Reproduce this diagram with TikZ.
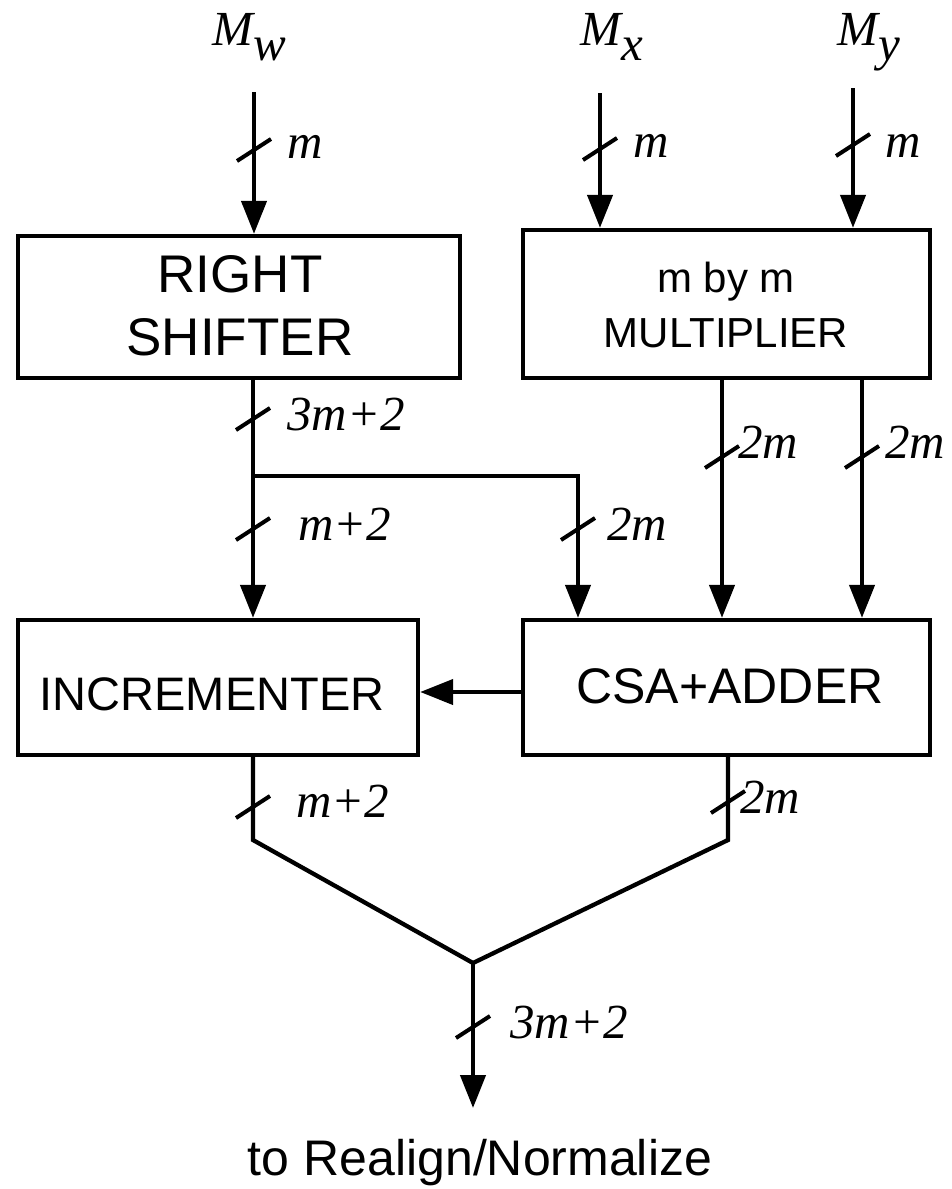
\documentclass[tikz,border=0pt]{standalone}
\usepackage{fontspec}
\setmainfont{Liberation Serif}
\setsansfont{Liberation Sans}
\usetikzlibrary{arrows.meta}

\begin{document}
\begin{tikzpicture}[x=1pt,y=-1pt,
  wire/.style={line width=4.3pt},
  arr/.style={wire,-{Triangle[length=33pt,width=25pt]}},
  block/.style={draw,line width=4.3pt,rectangle,inner sep=0pt},
  blocktext/.style={inner sep=0pt,anchor=base},
  buslabel/.style={font=\fontsize{49}{49}\selectfont\itshape,inner sep=0pt,anchor=base west},
  busmark/.pic={\draw[line width=4pt] (-17,11) -- (17,-11);}
]
% page frame
\fill[white] (0,0) rectangle (951,1189);
\useasboundingbox (0,0) rectangle (951,1189);

% operand names
\node[inner sep=0pt,anchor=base west,font=\fontsize{49}{49}\selectfont\itshape] (mw) at (212,45) {M\raisebox{-15pt}{w}};
\node[inner sep=0pt,anchor=base west,font=\fontsize{49}{49}\selectfont\itshape] (mx) at (580,45) {M\raisebox{-15pt}{x}};
\node[inner sep=0pt,anchor=base west,font=\fontsize{49}{49}\selectfont\itshape] (my) at (837,45) {M\raisebox{-15pt}{y}};

% blocks
\node[block,minimum width=442pt,minimum height=142pt] (rs) at (239,307) {};
\node[block,minimum width=407pt,minimum height=148pt] (mult) at (726.5,304) {};
\node[block,minimum width=400pt,minimum height=135pt] (inc) at (218,687.5) {};
\node[block,minimum width=407pt,minimum height=135pt] (csa) at (726.5,687.5) {};

% block captions
\node[blocktext,font=\sffamily\fontsize{53}{53}\selectfont] (rst1) at (240,292) {RIGHT};
\node[blocktext,font=\sffamily\fontsize{53}{53}\selectfont] (rst2) at (240,355) {SHIFTER};
\node[blocktext,font=\sffamily\fontsize{42}{42}\selectfont] (mult1) at (726,292) {m by m};
\node[blocktext,font=\sffamily\fontsize{42}{42}\selectfont] (mult2) at (726,347) {MULTIPLIER};
\node[blocktext,font=\sffamily\fontsize{47}{47}\selectfont] (inct) at (212,710) {INCREMENTER};
\node[blocktext,font=\sffamily\fontsize{50}{50}\selectfont] (csat) at (730,703) {CSA+ADDER};
\node[blocktext,font=\sffamily\fontsize{50}{50}\selectfont] (dest) at (480,1175) {to Realign/Normalize};

% inputs
\coordinate (mwin) at (254,92);
\coordinate (mxin) at (600,93);
\coordinate (myin) at (853,88);
\draw[arr] (mwin) -- (mwin |- rs.north);
\draw[arr] (mxin) -- (mxin |- mult.north);
\draw[arr] (myin) -- (myin |- mult.north);

% shifter output and its branch
\coordinate (split) at (253,476);
\draw[arr] (253,0 |- rs.south) -- (253,0 |- inc.north);
\draw[arr] (split) -- (578,476) -- (578,0 |- csa.north);

% multiplier outputs
\draw[arr] (722,0 |- mult.south) -- (722,0 |- csa.north);
\draw[arr] (862,0 |- mult.south) -- (862,0 |- csa.north);

% adder to incrementer
\draw[arr] (csa.west |- 0,692) -- (inc.east |- 0,692);

% merge of the two results
\coordinate (merge) at (473,963);
\coordinate (out) at (473,1108);
\draw[wire] (253,0 |- inc.south) -- (253,840) -- (merge);
\draw[wire] (728,0 |- csa.south) -- (728,840) -- (merge);
\draw[arr] (merge) -- (out);

% bus width marks
\pic at (254,150) {busmark};
\pic at (600,149) {busmark};
\pic at (853,145) {busmark};
\pic at (253,419) {busmark};
\pic at (253,529) {busmark};
\pic at (578,529) {busmark};
\pic at (722,457) {busmark};
\pic at (862,457) {busmark};
\pic at (253,807) {busmark};
\pic at (728,802) {busmark};
\pic at (473,1027) {busmark};

% bus width labels
\node[buslabel] (lw) at (287,158) {m};
\node[buslabel] (lx) at (633,157) {m};
\node[buslabel] (ly) at (885,157) {m};
\node[buslabel] (lrs) at (287,430) {3m+2};
\node[buslabel] (linc) at (298,540) {m+2};
\node[buslabel] (lbr) at (607,540) {2m};
\node[buslabel] (lm1) at (738,458) {2m};
\node[buslabel] (lm2) at (885,458) {2m};
\node[buslabel] (lio) at (296,817) {m+2};
\node[buslabel] (lco) at (740,813) {2m};
\node[buslabel] (lout) at (510,1038) {3m+2};
\end{tikzpicture}
\end{document}
